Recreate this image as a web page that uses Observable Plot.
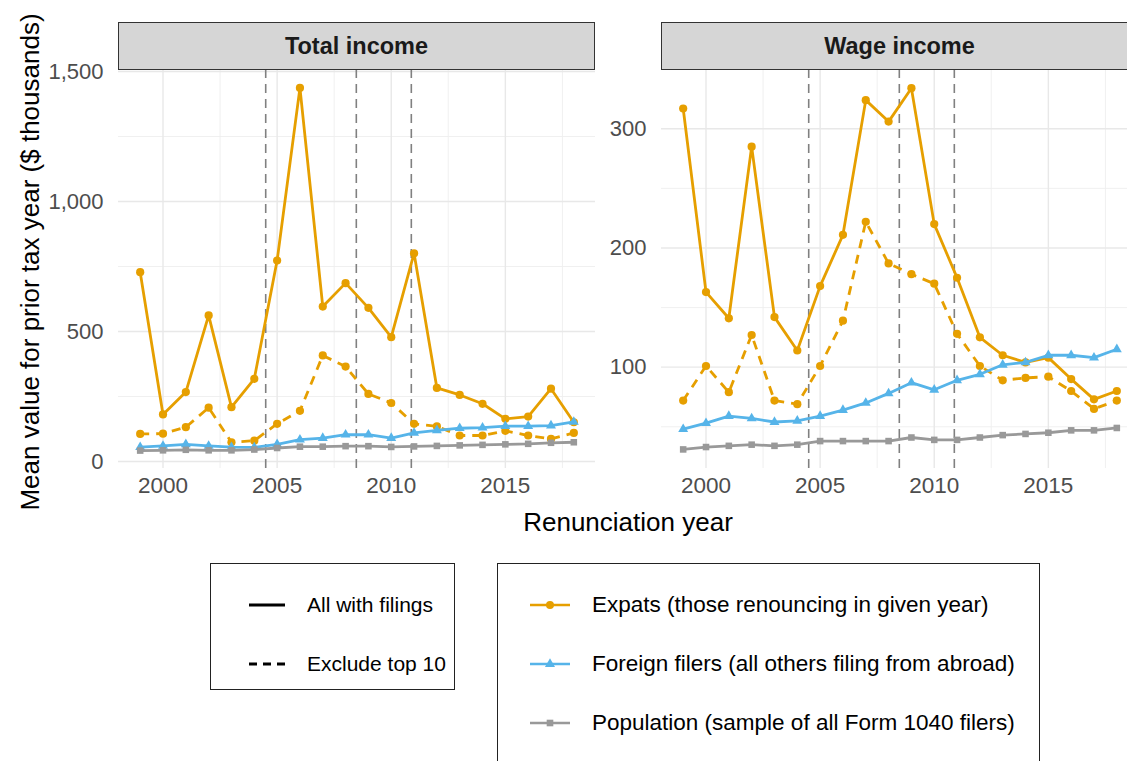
<!DOCTYPE html>
<html>
<head>
<meta charset="utf-8">
<script src="https://cdn.jsdelivr.net/npm/d3@7"></script>
<script src="https://cdn.jsdelivr.net/npm/@observablehq/plot@0.6"></script>
<style>
  html, body { margin: 0; padding: 0; background: #fff; }
  #fig {
    position: relative; width: 1127px; height: 761px; overflow: hidden; background: #fff;
    font-family: "Liberation Sans", Arial, Helvetica, sans-serif; color: #000;
  }
  .panel { position: absolute; top: 0; }
  .strip {
    position: absolute; top: 22px; height: 48px; box-sizing: border-box;
    background: #d6d6d6; border: 1.5px solid #333;
    font-weight: bold; font-size: 23.5px; color: #1a1a1a;
    display: flex; align-items: center; justify-content: center;
  }
  .ytitle {
    position: absolute; left: 30px; top: 262px; white-space: nowrap;
    transform: translate(-50%, -50%) rotate(-90deg); font-size: 26px;
  }
  .xtitle {
    position: absolute; left: 628px; top: 522px; white-space: nowrap;
    transform: translate(-50%, -50%); font-size: 26px;
  }
  .legend { position: absolute; box-sizing: border-box; border: 1.5px solid #222; background: #fff; }
  .row { position: absolute; left: 0; display: flex; align-items: center; height: 40px; white-space: nowrap; }
  .row svg { display: block; }
</style>
</head>
<body>
<div id="fig">
  <div class="ytitle">Mean value for prior tax year ($ thousands)</div>
  <div class="xtitle">Renunciation year</div>
</div>
<script>
// Renunciation years on the x axis
const years = [1999, 2000, 2001, 2002, 2003, 2004, 2005, 2006, 2007, 2008,
               2009, 2010, 2011, 2012, 2013, 2014, 2015, 2016, 2017, 2018];

// Total income, mean value ($ thousands)
const totalExpatsAll  = [728, 181, 267, 562, 209, 318, 773, 1437, 596, 686, 591, 478, 801, 283, 256, 222, 164, 173, 280, 151];
const totalExpatsExcl = [106, 107, 132, 207, 74, 80, 145, 195, 408, 365, 260, 225, 145, 135, 100, 100, 118, 100, 87, 110];
const totalForeign    = [55, 60, 66, 60, 55, 54, 66, 84, 90, 103, 103, 90, 110, 120, 128, 130, 136, 136, 138, 152];
const totalPopulation = [42, 43, 45, 43, 43, 46, 52, 57, 57, 59, 59, 56, 58, 60, 62, 64, 66, 68, 72, 74];

// Wage income, mean value ($ thousands)
const wageExpatsAll  = [317, 163, 141, 285, 142, 114, 168, 211, 324, 306, 334, 220, 175, 125, 110, 104, 108, 90, 73, 80];
const wageExpatsExcl = [72, 101, 79, 127, 72, 69, 101, 139, 222, 187, 178, 170, 128, 101, 89, 91, 92, 80, 65, 72];
const wageForeign    = [48, 53, 59, 57, 54, 55, 59, 64, 70, 78, 87, 81, 89, 94, 102, 104, 110, 110, 108, 115];
const wagePopulation = [31, 33, 34, 35, 34, 35, 38, 38, 38, 38, 41, 39, 39, 41, 43, 44, 45, 47, 47, 49];

// Policy change dates marked with dashed verticals
const eventYears = [2004.5, 2008.47, 2010.88];

// Axis ticks
const xTicks = [2000, 2005, 2010, 2015];
const xMinor = [2002.5, 2007.5, 2012.5, 2017.5];
const totalTicks = [0, 500, 1000, 1500];
const totalMinor = [250, 750, 1250];
const wageTicks = [100, 200, 300];
const wageMinor = [50, 150, 250];

// Groups and line types
const groups = ["Expats (those renouncing in given year)",
                "Foreign filers (all others filing from abroad)",
                "Population (sample of all Form 1040 filers)"];
const groupColors = ["#E69F00", "#56B4E9", "#999999"];
const groupSymbols = ["circle", "triangle", "square"];
const lineTypes = ["All with filings", "Exclude top 10"];

const FONT = '"Liberation Sans", Arial, Helvetica, sans-serif';
const fig = document.getElementById("fig");

function seriesRows(values) {
  return years.map((year, i) => ({year, value: values[i]}));
}

function panel({series, yDomain, yTicks, yMinor, marginLeft, left}) {
  const marks = [
    Plot.ruleY(yMinor, {stroke: "#eeeeee", strokeWidth: 0.9}),
    Plot.ruleX(xMinor, {stroke: "#eeeeee", strokeWidth: 0.9}),
    Plot.ruleY(yTicks, {stroke: "#e8e8e8", strokeWidth: 1.4}),
    Plot.ruleX(xTicks, {stroke: "#e8e8e8", strokeWidth: 1.4}),
    Plot.ruleX(eventYears, {stroke: "#808080", strokeWidth: 1.6, strokeDasharray: "9,6", strokeLinecap: "butt"}),
    Plot.axisX({ticks: xTicks, tickSize: 0, tickPadding: 9, tickFormat: d => String(d), label: null,
                fontSize: 22.5, fill: "#4d4d4d"}),
    Plot.axisY({ticks: yTicks, tickSize: 0, tickPadding: 15, tickFormat: d3.format(","), label: null,
                fontSize: 22, fill: "#4d4d4d"})
  ];
  for (const s of series) {
    const rows = seriesRows(s.values);
    marks.push(Plot.line(rows, {
      x: "year", y: "value", stroke: groupColors[s.group], strokeWidth: 2.8,
      strokeDasharray: s.dashed ? "9,7" : null, strokeLinecap: "butt", strokeLinejoin: "round"
    }));
    marks.push(Plot.dot(rows, {
      x: "year", y: "value", fill: groupColors[s.group], stroke: "none",
      symbol: groupSymbols[s.group], r: s.group === 0 ? 4.1 : 3.7
    }));
  }
  const chart = Plot.plot({
    width: marginLeft + 477,
    height: 540,
    marginLeft, marginRight: 0, marginTop: 69, marginBottom: 72,
    style: {background: "transparent", fontFamily: FONT, fontSize: "22px", overflow: "visible"},
    x: {domain: [1998.05, 2018.95]},
    y: {domain: yDomain},
    marks
  });
  chart.classList.add("panel");
  chart.style.left = left + "px";
  fig.appendChild(chart);
}

function strip(text, left) {
  const d = document.createElement("div");
  d.className = "strip";
  d.style.left = left + "px";
  d.style.width = "477px";
  d.textContent = text;
  fig.appendChild(d);
}

panel({
  series: [
    {group: 0, values: totalExpatsAll},
    {group: 0, values: totalExpatsExcl, dashed: true},
    {group: 1, values: totalForeign},
    {group: 2, values: totalPopulation}
  ],
  yDomain: [-26.9, 1507.7], yTicks: totalTicks, yMinor: totalMinor,
  marginLeft: 118, left: 0
});
panel({
  series: [
    {group: 0, values: wageExpatsAll},
    {group: 0, values: wageExpatsExcl, dashed: true},
    {group: 1, values: wageForeign},
    {group: 2, values: wagePopulation}
  ],
  yDomain: [15.0, 349.7], yTicks: wageTicks, yMinor: wageMinor,
  marginLeft: 66, left: 595
});
strip("Total income", 118);
strip("Wage income", 661);

// Legends: line type, then group colour/marker
function legendBox(left, top, width, height) {
  const b = document.createElement("div");
  b.className = "legend";
  Object.assign(b.style, {left: left + "px", top: top + "px", width: width + "px", height: height + "px"});
  fig.appendChild(b);
  return b;
}
function addRow(box, y, keyWidth, keyLeft, textGap, fontSize, drawKey, label) {
  const row = document.createElement("div");
  row.className = "row";
  row.style.top = (y - 20) + "px";
  row.style.left = keyLeft + "px";
  row.style.fontSize = fontSize + "px";
  const svg = d3.create("svg").attr("width", keyWidth).attr("height", 40);
  drawKey(svg);
  row.appendChild(svg.node());
  const span = document.createElement("span");
  span.style.marginLeft = textGap + "px";
  span.textContent = label;
  row.appendChild(span);
  box.appendChild(row);
}

const lt = legendBox(210, 563, 245, 127);
lineTypes.forEach((label, i) => {
  addRow(lt, [41, 100][i], 44, 36, 16, 21, svg => {
    svg.append("line").attr("x1", 2).attr("x2", i === 1 ? 42 : 38).attr("y1", 20).attr("y2", 20)
      .attr("stroke", "#000").attr("stroke-width", 2.8)
      .attr("stroke-dasharray", i === 1 ? "8,6" : null);
  }, label);
});

const gl = legendBox(497, 563, 543, 202);
groups.forEach((label, i) => {
  addRow(gl, [41, 100, 159][i], 44, 30, 20, 22.5, svg => {
    svg.append("line").attr("x1", 2).attr("x2", 42).attr("y1", 20).attr("y2", 20)
      .attr("stroke", groupColors[i]).attr("stroke-width", 2.6);
    const sym = [d3.symbolCircle, d3.symbolTriangle, d3.symbolSquare][i];
    svg.append("path").attr("transform", "translate(22,20)")
      .attr("d", d3.symbol(sym, i === 0 ? 50 : 44)()).attr("fill", groupColors[i]);
  }, label);
});
</script>
</body>
</html>
